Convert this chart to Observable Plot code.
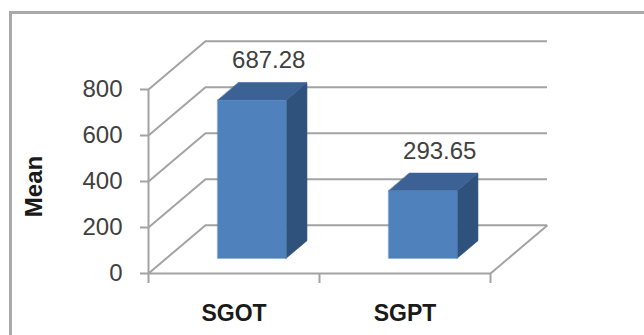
<!DOCTYPE html>
<html><head><meta charset="utf-8">
<script src="https://cdn.jsdelivr.net/npm/d3@7"></script>
<script src="https://cdn.jsdelivr.net/npm/@observablehq/plot@0.6"></script>
<style>
html,body{margin:0;padding:0;background:#fff;overflow:hidden;}
#wrap{position:relative;width:644px;height:335px;}
#wrap svg{position:absolute;left:0;top:0;}
#border{position:absolute;left:9px;top:11px;width:700px;height:400px;border:3px solid #a9a9a9;pointer-events:none;}
</style></head><body><div id="wrap"><div id="border"></div></div>
<script>
const categories = ["SGOT", "SGPT"];
const means = [687.28, 293.65];
const meanLabels = ["687.28", "293.65"];
const yTicks = [0, 200, 400, 600, 800];
const xTicks = [0, 1, 2];
const yTitle = ["Mean"];
const faceColors = {front: "#4f81bd", top: "#3b6195", side: "#2f527c"};

// oblique depth of the 3D box (x in category units, y in value units)
const DX = 1 / 3, DY = 210;
const f0 = 0.315, f1 = 0.68, hw = 0.2;

const faces = [];
means.forEach((v, i) => {
  const c = i + 0.5, x0 = c - hw, x1 = c + hw;
  const P = (x, y, f) => [x + f * DX, y + f * DY];
  const add = (name, pts) => pts.forEach(([x, y]) => faces.push({id: categories[i] + name, x, y, color: faceColors[name]}));
  add("side", [P(x1, 0, f0), P(x1, 0, f1), P(x1, v, f1), P(x1, v, f0)]);
  add("top", [P(x0, v, f0), P(x1, v, f0), P(x1, v, f1), P(x0, v, f1)]);
  add("front", [P(x0, 0, f0), P(x1, 0, f0), P(x1, v, f0), P(x0, v, f0)]);
});

const grid = "#a3a3a3";
const plot = Plot.plot({
  width: 644, height: 335,
  marginLeft: 148, marginRight: 154, marginTop: 89, marginBottom: 62,
  x: {type: "linear", domain: [0, 2]},
  y: {type: "linear", domain: [0, 800]},
  color: {type: "identity"},
  style: {fontFamily: "'Liberation Sans', Arial, sans-serif", background: "#fff"},
  marks: [
    Plot.ruleY(yTicks, {y: d => d + DY, x1: DX, x2: 2 + DX, stroke: grid, strokeWidth: 2}),
    Plot.link(yTicks, {x1: 0, y1: d => d, x2: DX, y2: d => d + DY, stroke: grid, strokeWidth: 2}),
    Plot.link([0], {x1: 2, y1: 0, x2: 2 + DX, y2: DY, stroke: grid, strokeWidth: 2}),
    Plot.ruleX([0], {y1: 0, y2: 800, stroke: grid, strokeWidth: 2}),
    Plot.ruleY([0], {x1: 0, x2: 2, stroke: grid, strokeWidth: 2}),
    Plot.axisY(yTicks, {tickSize: 8, tickPadding: 18, stroke: grid, strokeWidth: 2, fill: "#404040", fontSize: 24, label: null}),
    Plot.axisX(xTicks, {tickSize: 10, tickFormat: () => "", stroke: grid, strokeWidth: 2, label: null}),
    Plot.line(faces, {x: "x", y: "y", z: "id", fill: "color", stroke: "color", strokeWidth: 0.6, curve: "linear-closed"}),
    Plot.text(means, {x: (d, i) => i + 0.5 + f1 * DX, y: d => d + f1 * DY, text: (d, i) => meanLabels[i], dy: -22, dx: -4, fontSize: 24, fill: "#404040"}),
    Plot.text(categories, {x: (d, i) => i + 0.5, y: 0, text: d => d, dy: 40, fontSize: 23, fontWeight: "bold", fill: "#1a1a1a"}),
    Plot.text(yTitle, {frameAnchor: "left", textAnchor: "middle", text: d => d, rotate: -90, dx: -114, dy: 5, fontSize: 24, fontWeight: "bold", fill: "#1a1a1a"})
  ]
});
document.getElementById("wrap").prepend(plot);
</script>
</body></html>
